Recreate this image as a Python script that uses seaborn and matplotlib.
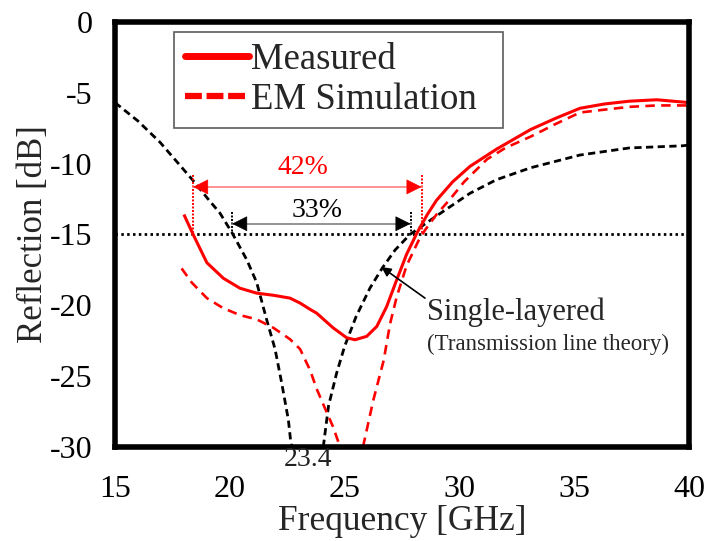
import matplotlib
matplotlib.use("Agg")
import matplotlib.pyplot as plt
from matplotlib.lines import Line2D
import seaborn as sns

# Measured reflection of the two-layer absorber
meas_f = [18.0, 18.4, 19.0, 19.72, 20.44, 21.17, 21.9, 22.62, 23.06, 23.5, 23.78, 24.5,
          25.09, 25.45, 25.96, 26.4, 26.83, 27.27, 27.7, 28.15, 28.6, 29.0, 29.7, 30.46,
          31.6, 33.1, 34.2, 35.25, 36.3, 37.4, 38.6, 40.0]
meas_db = [-13.6, -15.0, -17.0, -18.1, -18.8, -19.15, -19.3, -19.5, -19.85, -20.3, -20.56, -21.6,
           -22.3, -22.44, -22.2, -21.5, -20.1, -18.2, -16.4, -14.9, -13.6, -12.6, -11.3, -10.2,
           -9.0, -7.6, -6.8, -6.1, -5.8, -5.6, -5.5, -5.7]

# EM simulation (two branches around the deep null)
sim_f_low = [17.9, 18.34, 19.0, 19.7, 20.44, 21.17, 21.9, 22.62, 23.06, 23.5, 23.78, 24.15,
             24.5, 24.8]
sim_db_low = [-17.4, -18.4, -19.5, -20.2, -20.7, -21.0, -21.6, -22.4, -23.1, -24.6, -25.9, -27.3,
              -28.6, -30.0]
sim_f_high = [25.8, 26.25, 26.7, 26.98, 27.27, 27.7, 28.2, 28.5, 29.0, 29.6, 30.2, 31.2, 32.0,
              33.1, 34.2, 35.25, 36.3, 37.4, 38.6, 40.0]
sim_db_high = [-30.0, -26.7, -23.9, -21.3, -19.4, -17.2, -15.5, -14.7, -13.6, -12.5, -11.3, -9.7, -8.9,
               -8.1, -7.2, -6.4, -6.2, -6.0, -5.9, -5.9]

# Single-layered absorber, transmission line theory
single_f_low = [15.0, 16.0, 16.96, 18.4, 19.1, 19.57, 20.1, 20.74, 21.17, 21.6, 21.97, 22.26,
                22.55, 22.65, 22.7]
single_db_low = [-5.7, -7.0, -8.5, -11.2, -12.6, -13.5, -14.9, -16.8, -18.4, -21.0, -23.1, -25.5,
                 -28.1, -29.6, -30.0]
single_f_high = [24.07, 24.3, 24.65, 25.0, 25.5, 26.1, 26.65, 27.2, 27.85, 29.0, 30.46, 31.6,
                 33.1, 35.25, 37.4, 39.7, 40.0]
single_db_high = [-30.0, -27.1, -24.8, -22.9, -20.8, -18.8, -17.35, -16.1, -15.0, -13.7, -12.1, -11.15,
                  -10.3, -9.4, -8.9, -8.75, -8.7]

threshold_db = -15
band_meas = (18.4, 28.35, "42%")
band_single = (20.1, 27.87, "33%")
null_freq = 23.4

sns.set_style("white")
plt.rcParams["font.family"] = ["Liberation Serif", "DejaVu Serif"]
plt.rcParams["axes.unicode_minus"] = False

fig = plt.figure(figsize=(7.1, 5.41), dpi=100)
ax = fig.add_axes([0.162, 0.174, 0.8085, 0.7856])

red = "#ff0000"
black_dash = (2.6, 1.6)
red_dash = (3.6, 2.4)


def curve(f, db, color, lw, dashes=None):
    sns.lineplot(x=f, y=db, ax=ax, color=color, lw=lw, sort=False)
    line = ax.lines[-1]
    if dashes is not None:
        line.set_dashes(dashes)
    line.set_solid_capstyle("butt")
    return line


curve(single_f_low, single_db_low, "black", 2.0, black_dash)
curve(single_f_high, single_db_high, "black", 2.0, black_dash)
curve(sim_f_low, sim_db_low, red, 1.9, red_dash)
curve(sim_f_high, sim_db_high, red, 1.9, red_dash)
curve(meas_f, meas_db, red, 2.2)

# -15 dB reference line
ax.axhline(threshold_db, color="black", lw=2.0, dashes=(0.9, 1.2), zorder=1)

ax.set_xlim(15, 40)
ax.set_ylim(-30, 0)
ax.set_xticks([15, 20, 25, 30, 35, 40])
ax.set_yticks([0, -5, -10, -15, -20, -25, -30])
ax.tick_params(axis="both", direction="in", length=7, width=0.9, color="black",
               labelsize=23, labelcolor="black")
ax.tick_params(axis="x", pad=20)
ax.tick_params(axis="y", pad=16)
for s in ax.spines.values():
    s.set_visible(True)
    s.set_linewidth(4.0)
    s.set_color("black")

ax.set_xlabel("Frequency [GHz]", fontsize=25.5, labelpad=1)
ax.set_ylabel("Reflection [dB]", fontsize=25, labelpad=0)


# bandwidth markers: dotted end lines, pale shaft, solid arrow heads
def band(lo, hi, y_arrow, y_top, label, y_label, col, shaft_col):
    for f in (lo, hi):
        ax.plot([f, f], [y_top, threshold_db], color=col, lw=1.4, dashes=(1, 0.8))
    ax.plot([lo, hi], [y_arrow, y_arrow], color=shaft_col, lw=1.3)
    for tip, tail in ((hi, hi - 0.55), (lo, lo + 0.55)):
        ax.annotate("", xy=(tip, y_arrow), xytext=(tail, y_arrow),
                    arrowprops=dict(arrowstyle="-|>", color=col, lw=0.5,
                                    mutation_scale=25, shrinkA=0, shrinkB=0))
    ax.text((lo + hi) / 2 - 0.2, y_label, label, color=col, fontsize=20,
            ha="center", va="center")


band(band_meas[0], band_meas[1], -11.65, -10.8, band_meas[2], -10.3, red, "#ff8a8a")
band(band_single[0], band_single[1], -14.25, -13.4, band_single[2], -13.3, "black", "#8a8a8a")

ax.text(null_freq, -30.9, f"{null_freq}", fontsize=20, ha="center", va="center",
        color="#222222", clip_on=False)

ax.annotate("", xy=(26.6, -17.3), xytext=(28.5, -19.5),
            arrowprops=dict(arrowstyle="-|>", color="black", lw=1.2,
                            mutation_scale=14, shrinkA=0, shrinkB=0))
ax.text(28.6, -20.5, "Single-layered", fontsize=22, ha="left", va="center")
ax.text(28.6, -22.8, "(Transmission line theory)", fontsize=16.5, ha="left", va="center")

handles = [Line2D([], [], color=red, lw=5.0),
           Line2D([], [], color=red, lw=4.5, dashes=(2.7, 0.75))]
leg = ax.legend(handles, ["Measured", "EM Simulation"], loc="upper left",
                bbox_to_anchor=(0.1028, 0.3, 0.573, 0.677), mode="expand",
                fontsize=26.5, frameon=True,
                fancybox=False, handlelength=1.75, handletextpad=0.05,
                labelspacing=0.15, borderpad=0.3, borderaxespad=0)
leg.get_frame().set_edgecolor("#333333")
leg.get_frame().set_linewidth(1.2)

fig.savefig("out.png", dpi=100)
